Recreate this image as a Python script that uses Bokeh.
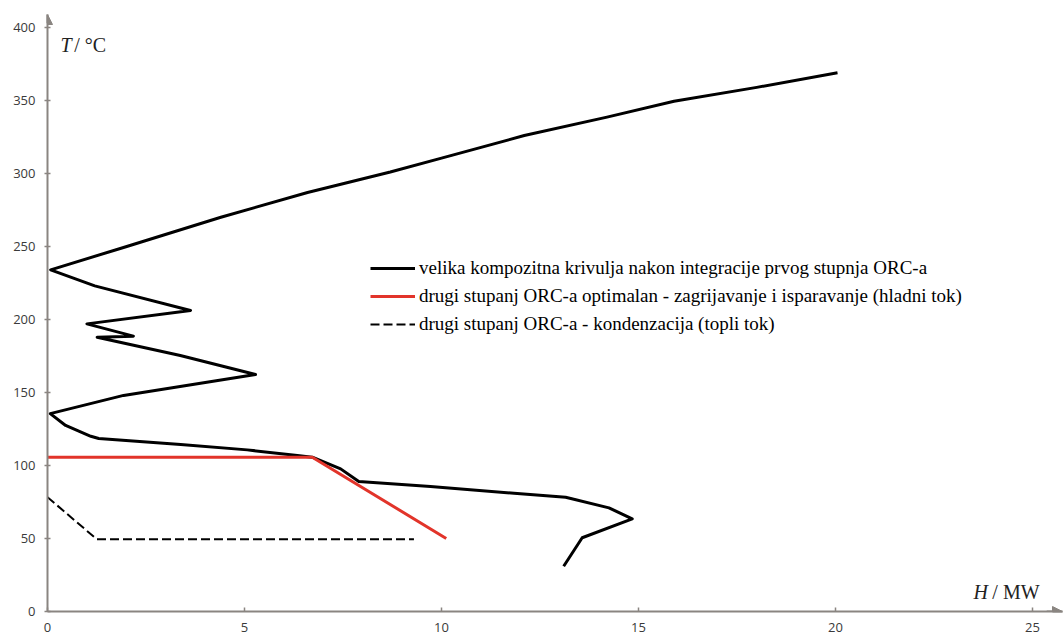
from bokeh.plotting import figure
from bokeh.models import (Range1d, Legend, LegendItem, Label, Arrow, NormalHead,
                          FixedTicker)
from bokeh.embed import file_html
from bokeh.resources import INLINE

# Grand composite curve after integration of first ORC stage
gcc_H = [20.05, 18.0, 15.9, 14.2, 12.1, 10.0, 8.7, 6.6, 4.4, 1.95, 0.08,
         1.2, 3.63, 1.0, 2.18, 1.26, 3.37, 5.28, 1.93, 0.07, 0.46, 1.1, 1.3,
         3.38, 5.07, 6.34, 6.72, 7.44, 7.9, 9.72, 11.84, 13.15, 14.25, 14.84,
         13.57, 13.1]
gcc_T = [369.0, 359.0, 349.5, 338.6, 326.0, 310.5, 301.0, 287.0, 270.0, 249.5,
         234.0, 223.0, 206.2, 197.0, 188.6, 187.9, 175.3, 162.3, 148.0, 135.5,
         127.4, 120.0, 118.5, 114.4, 110.7, 106.8, 105.7, 97.7, 89.0, 85.6,
         81.0, 78.3, 71.0, 63.5, 50.5, 31.0]

# Second ORC stage - heating and evaporation (cold stream)
red_H = [0.0, 6.72, 10.12]
red_T = [105.7, 105.7, 50.0]

# Second ORC stage - condensation (hot stream)
cond_H = [0.0, 1.25, 9.3]
cond_T = [78.3, 49.5, 49.5]

x_ticks = [0, 5, 10, 15, 20, 25]
y_ticks = [0, 50, 100, 150, 200, 250, 300, 350, 400]

labels = ["velika kompozitna krivulja nakon integracije prvog stupnja ORC-a",
          "drugi stupanj ORC-a optimalan - zagrijavanje i isparavanje (hladni tok)",
          "drugi stupanj ORC-a - kondenzacija (topli tok)"]

X_END = 25.76
Y_END = 408.9
AXIS_COLOR = "#8a8581"
TICK_TEXT = "#3a3a3a"

p = figure(width=1064, height=641, output_backend="svg", toolbar_location=None,
           x_range=Range1d(0, X_END), y_range=Range1d(0, Y_END),
           min_border_left=47, min_border_right=2, min_border_top=14,
           min_border_bottom=30)
p.outline_line_color = None
p.xgrid.visible = False
p.ygrid.visible = False
p.background_fill_color = "white"

for ax, ticks in ((p.xaxis[0], x_ticks), (p.yaxis[0], y_ticks)):
    ax.ticker = FixedTicker(ticks=ticks)
    ax.axis_line_color = AXIS_COLOR
    ax.axis_line_width = 2
    ax.major_tick_line_color = AXIS_COLOR
    ax.major_tick_line_width = 1.5
    ax.major_tick_in = 3
    ax.major_tick_out = 3
    ax.minor_tick_line_color = None
    ax.major_label_text_font = "Open Sans"
    ax.major_label_text_font_size = "13px"
    ax.major_label_text_color = TICK_TEXT
p.xaxis[0].major_tick_out = 0
p.xaxis[0].major_tick_in = 4
p.xaxis[0].major_label_standoff = 11
p.yaxis[0].major_label_standoff = 9

# axis arrows
p.add_layout(Arrow(end=NormalHead(size=10, fill_color=AXIS_COLOR, line_color=AXIS_COLOR),
                   x_start=X_END - 0.4, y_start=0, x_end=X_END, y_end=0,
                   line_color=AXIS_COLOR, line_width=2))
p.add_layout(Arrow(end=NormalHead(size=10, fill_color=AXIS_COLOR, line_color=AXIS_COLOR),
                   x_start=0, y_start=Y_END - 6, x_end=0, y_end=Y_END,
                   line_color=AXIS_COLOR, line_width=2))

r1 = p.line(gcc_H, gcc_T, line_color="black", line_width=3, line_join="round")
r2 = p.line(red_H, red_T, line_color="#e2342a", line_width=3)
r3 = p.line(cond_H, cond_T, line_color="black", line_width=2, line_dash="9 4")

legend = Legend(items=[LegendItem(label=labels[0], renderers=[r1]),
                       LegendItem(label=labels[1], renderers=[r2]),
                       LegendItem(label=labels[2], renderers=[r3])],
                location=(323, 276), orientation="vertical",
                label_text_font="Liberation Serif", label_text_font_size="19px",
                label_text_color="black",
                glyph_width=45, glyph_height=22, label_height=22,
                label_standoff=4, spacing=6, padding=0, margin=0,
                border_line_alpha=0, background_fill_alpha=0)
p.add_layout(legend)

# axis titles
p.add_layout(Label(x=0.33, y=380.5, text="T", text_font="Liberation Serif",
                   text_font_style="italic", text_font_size="20px",
                   text_color="#222222"))
p.add_layout(Label(x=0.68, y=380.5, text="/ °C", text_font="Liberation Serif",
                   text_font_size="20px", text_color="#222222"))
p.add_layout(Label(x=23.5, y=5.5, text="H", text_font="Liberation Serif",
                   text_font_style="italic", text_font_size="20px",
                   text_color="#222222"))
p.add_layout(Label(x=23.98, y=5.5, text="/ MW", text_font="Liberation Serif",
                   text_font_size="20px", text_color="#222222"))

open("out.html", "w").write(file_html(p, INLINE))
